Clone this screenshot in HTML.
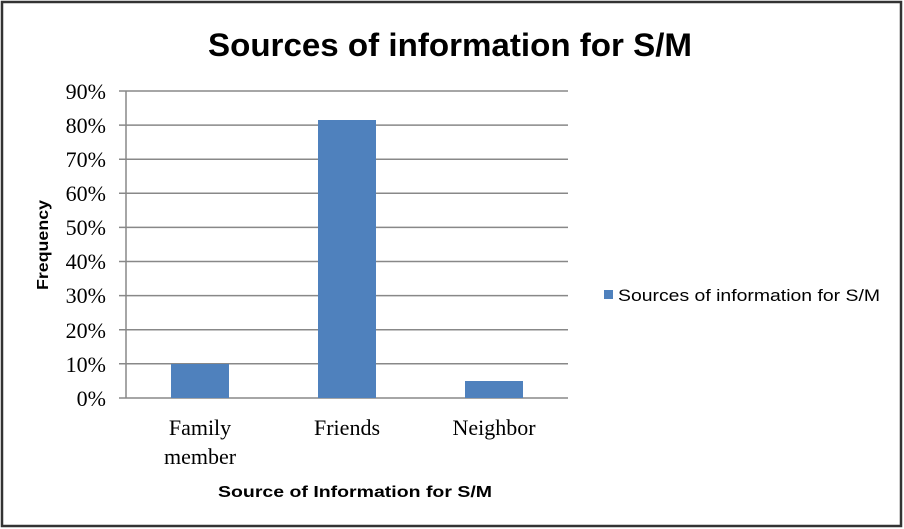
<!DOCTYPE html>
<html><head><style>
html,body{margin:0;padding:0;background:#fff;}
svg{display:block;}
</style></head><body>
<svg width="904" height="529" xmlns="http://www.w3.org/2000/svg">
<rect x="2" y="2" width="899" height="524" fill="#fff" stroke="#333" stroke-width="2.5"/>
<text x="208" y="56" textLength="484" lengthAdjust="spacingAndGlyphs" font-family="Liberation Sans, sans-serif" font-weight="bold" font-size="32">Sources of information for S/M</text>
<g stroke="#888" stroke-width="1.5">
<line x1="119" y1="91" x2="568" y2="91"/>
<line x1="119" y1="125.1" x2="568" y2="125.1"/>
<line x1="119" y1="159.2" x2="568" y2="159.2"/>
<line x1="119" y1="193.3" x2="568" y2="193.3"/>
<line x1="119" y1="227.4" x2="568" y2="227.4"/>
<line x1="119" y1="261.5" x2="568" y2="261.5"/>
<line x1="119" y1="295.6" x2="568" y2="295.6"/>
<line x1="119" y1="329.7" x2="568" y2="329.7"/>
<line x1="119" y1="363.8" x2="568" y2="363.8"/>
<line x1="119" y1="398" x2="568" y2="398"/>
<line x1="126" y1="91" x2="126" y2="398"/>
</g>
<g fill="#4f81bd">
<rect x="171" y="364" width="58" height="34"/>
<rect x="318" y="120" width="58" height="278"/>
<rect x="465" y="381" width="58" height="17"/>
</g>
<g font-family="Liberation Serif, serif" font-size="22" text-anchor="end">
<text x="106" y="99">90%</text>
<text x="106" y="133">80%</text>
<text x="106" y="167">70%</text>
<text x="106" y="201">60%</text>
<text x="106" y="235">50%</text>
<text x="106" y="269">40%</text>
<text x="106" y="303">30%</text>
<text x="106" y="338">20%</text>
<text x="106" y="372">10%</text>
<text x="106" y="406">0%</text>
</g>
<g font-family="Liberation Serif, serif" font-size="22" text-anchor="middle">
<text x="200" y="435">Family</text>
<text x="200" y="464">member</text>
<text x="347" y="435">Friends</text>
<text x="494" y="435">Neighbor</text>
</g>
<text x="218" y="497" textLength="274" lengthAdjust="spacingAndGlyphs" font-family="Liberation Sans, sans-serif" font-weight="bold" font-size="16">Source of Information for S/M</text>
<text transform="translate(48,245) rotate(-90)" x="-45" textLength="90" lengthAdjust="spacingAndGlyphs" font-family="Liberation Sans, sans-serif" font-weight="bold" font-size="16">Frequency</text>
<rect x="604" y="290" width="9" height="9" fill="#4f81bd"/>
<text x="618" y="301" textLength="262" lengthAdjust="spacingAndGlyphs" font-family="Liberation Sans, sans-serif" font-size="17">Sources of information for S/M</text>
</svg>
</body></html>
